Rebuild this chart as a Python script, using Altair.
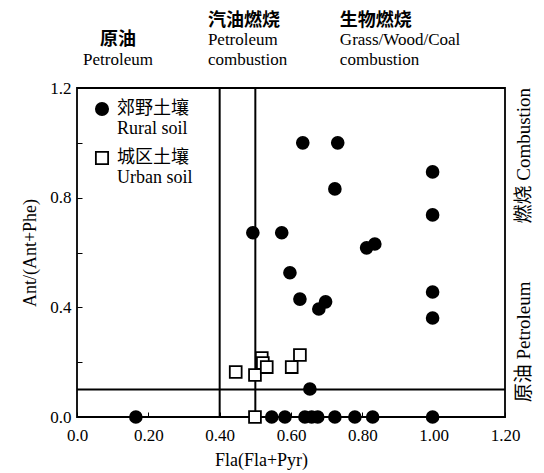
import altair as alt
import pandas as pd

# ---- data ----
rural_x = [0.165, 0.493, 0.574, 0.597, 0.625, 0.633, 0.731, 0.723, 0.678, 0.697,
           0.812, 0.835, 0.997, 0.997, 0.997, 0.997, 0.653,
           0.546, 0.583, 0.639, 0.658, 0.675, 0.723, 0.779, 0.829, 0.997]
rural_y = [0.0, 0.672, 0.672, 0.526, 0.430, 1.0, 1.0, 0.832, 0.394, 0.420,
           0.617, 0.631, 0.894, 0.737, 0.456, 0.361, 0.102,
           0.0, 0.0, 0.0, 0.0, 0.0, 0.0, 0.0, 0.0, 0.0]
urban_x = [0.445, 0.499, 0.518, 0.521, 0.532, 0.602, 0.625, 0.499]
urban_y = [0.164, 0.153, 0.215, 0.197, 0.182, 0.182, 0.226, 0.0]

groups = ["Rural", "Urban"]
group_labels_cn = ["郊野土壤", "城区土壤"]
group_labels_en = ["Rural soil", "Urban soil"]

vlines = [0.4, 0.5]
hlines = [0.1]

x_ticks = [0.0, 0.1, 0.2, 0.3, 0.4, 0.5, 0.6, 0.7, 0.8, 0.9, 1.0, 1.1, 1.2]
y_ticks = [0.0, 0.1, 0.2, 0.3, 0.4, 0.5, 0.6, 0.7, 0.8, 0.9, 1.0, 1.1, 1.2]

# top annotations (data coordinates)
top_cn_center = ["原油"]
top_cn_center_x = [0.115]
top_cn_center_y = [1.376]
top_cn_left = ["汽油燃烧", "生物燃烧"]
top_cn_left_x = [0.367, 0.737]
top_cn_left_y = [1.445, 1.445]
top_en_center = ["Petroleum"]
top_en_center_x = [0.115]
top_en_center_y = [1.303]
top_en_left = ["Petroleum", "combustion", "Grass/Wood/Coal", "combustion"]
top_en_left_x = [0.367, 0.367, 0.737, 0.737]
top_en_left_y = [1.376, 1.303, 1.376, 1.303]

side_text = ["原油 Petroleum", "燃烧 Combustion"]
side_x = [1.252, 1.252]
side_y = [0.274, 0.953]

FONT = "Liberation Serif, Noto Sans CJK SC"

pts = pd.DataFrame({
    "x": rural_x + urban_x,
    "y": rural_y + urban_y,
    "group": [groups[0]] * len(rural_x) + [groups[1]] * len(urban_x),
})

xscale = alt.Scale(domain=[0, 1.2], nice=False, zero=False)
yscale = alt.Scale(domain=[0, 1.2], nice=False, zero=False)

label_expr = ("datum.value == '%s' ? ['%s', '%s'] : ['%s', '%s']"
              % (groups[0], group_labels_cn[0], group_labels_en[0],
                 group_labels_cn[1], group_labels_en[1]))

legend = alt.Legend(
    title=None, orient="none", legendX=16, legendY=12,
    labelExpr=label_expr, labelFont=FONT, labelFontSize=18,
    labelColor="black", symbolSize=150, symbolStrokeWidth=1.8,
    symbolStrokeColor="black", rowPadding=10, labelOffset=6,
    labelLimit=0,
)

x_axis = alt.Axis(
    title="Fla(Fla+Pyr)", values=x_ticks, grid=False, domain=False,
    offset=-5, tickSize=5, tickColor="black", tickWidth=1,
    labelExpr="round(datum.value*10) % 2 == 0 ? (datum.value == 0 ? '0.0' : format(datum.value, '.2f')) : ''",
    labelFont=FONT, labelFontSize=17, labelColor="black", labelPadding=10,
    labelOverlap=False, labelFlush=False,
    titleFont=FONT, titleFontSize=18, titleFontWeight="normal", titleColor="black",
    titlePadding=8, titleX=184,
)
y_axis = alt.Axis(
    title="Ant/(Ant+Phe)", values=y_ticks, grid=False, domain=False,
    offset=-5, tickSize=5, tickColor="black", tickWidth=1,
    labelExpr="round(datum.value*10) % 4 == 0 ? format(datum.value, '.1f') : ''",
    labelFont=FONT, labelFontSize=17, labelColor="black", labelPadding=6,
    labelOverlap=False, labelFlush=False,
    titleFont=FONT, titleFontSize=18, titleFontWeight="normal", titleColor="black",
    titlePadding=10,
)

points = alt.Chart(pts).mark_point(size=140, strokeWidth=1.8, opacity=1).encode(
    x=alt.X("x:Q", scale=xscale, axis=x_axis),
    y=alt.Y("y:Q", scale=yscale, axis=y_axis),
    shape=alt.Shape("group:N", scale=alt.Scale(domain=groups, range=["circle", "square"]), legend=legend),
    fill=alt.Fill("group:N", scale=alt.Scale(domain=groups, range=["black", "white"]), legend=legend),
    stroke=alt.Stroke("group:N", scale=alt.Scale(domain=groups, range=["black", "black"]), legend=legend),
)

vrules = alt.Chart(pd.DataFrame({"v": vlines})).mark_rule(color="black", strokeWidth=2).encode(
    x=alt.X("v:Q", scale=xscale)
)
hrules = alt.Chart(pd.DataFrame({"h": hlines})).mark_rule(color="black", strokeWidth=2).encode(
    y=alt.Y("h:Q", scale=yscale)
)

cn_center = alt.Chart(pd.DataFrame({"t": top_cn_center, "x": top_cn_center_x, "y": top_cn_center_y})).mark_text(
    font=FONT, fontSize=18, align="center", baseline="middle", color="black", fontWeight="bold"
).encode(x=alt.X("x:Q", scale=xscale), y=alt.Y("y:Q", scale=yscale), text="t:N")

cn_left = alt.Chart(pd.DataFrame({"t": top_cn_left, "x": top_cn_left_x, "y": top_cn_left_y})).mark_text(
    font=FONT, fontSize=18, align="left", baseline="middle", color="black", fontWeight="bold"
).encode(x=alt.X("x:Q", scale=xscale), y=alt.Y("y:Q", scale=yscale), text="t:N")

en_center = alt.Chart(pd.DataFrame({"t": top_en_center, "x": top_en_center_x, "y": top_en_center_y})).mark_text(
    font=FONT, fontSize=17, align="center", baseline="middle", color="black"
).encode(x=alt.X("x:Q", scale=xscale), y=alt.Y("y:Q", scale=yscale), text="t:N")

en_left = alt.Chart(pd.DataFrame({"t": top_en_left, "x": top_en_left_x, "y": top_en_left_y})).mark_text(
    font=FONT, fontSize=17, align="left", baseline="middle", color="black"
).encode(x=alt.X("x:Q", scale=xscale), y=alt.Y("y:Q", scale=yscale), text="t:N")

side = alt.Chart(pd.DataFrame({"t": side_text, "x": side_x, "y": side_y})).mark_text(
    font=FONT, fontSize=19, align="center", baseline="middle", color="black", angle=270
).encode(x=alt.X("x:Q", scale=xscale), y=alt.Y("y:Q", scale=yscale), text="t:N")

chart = alt.layer(vrules, hrules, points, cn_center, cn_left, en_center, en_left, side).properties(
    width=428, height=329,
    autosize=alt.AutoSizeParams(type="none"),
    padding={"left": 69, "top": 80, "right": 31, "bottom": 56},
    background="white",
).configure_view(stroke="black", strokeWidth=1.8)

chart.save("out.html", embed_options={"renderer": "svg", "actions": False})
